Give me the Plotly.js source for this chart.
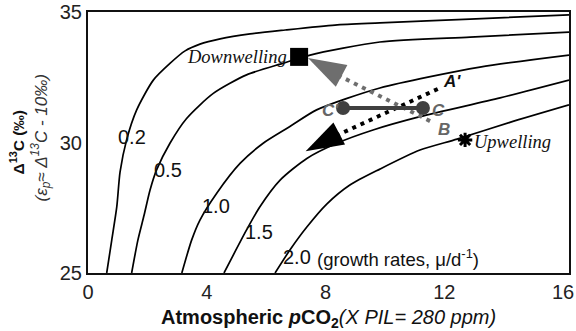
<!DOCTYPE html>
<html>
<head>
<meta charset="utf-8">
<script src="https://cdn.plot.ly/plotly-3.0.1.min.js"></script>
<style>html,body{margin:0;padding:0;background:#fff;}#chart{width:576px;height:331px;}</style>
</head>
<body>
<div id="chart"></div>
<script>
// Growth-rate curves: pCO2 (x PIL) vs Δ13C (‰)
const growthRates = ['0.2', '0.5', '1.0', '1.5', '2.0'];
const curve02X = [0.63, 0.80, 0.97, 1.08, 1.30, 1.64, 2.20, 2.76, 3.27, 3.77, 4.45, 5.46, 6.64, 8.32, 9.83, 12.87, 16.2];
const curve02Y = [25.0, 26.26, 27.54, 28.87, 30.10, 31.25, 32.39, 33.03, 33.51, 33.77, 33.97, 34.16, 34.31, 34.50, 34.58, 34.73, 34.89];
const curve05X = [1.47, 1.68, 1.89, 2.09, 2.31, 2.76, 3.32, 4.22, 5.34, 6.58, 7.48, 9.83, 12.87, 16.2];
const curve05Y = [25.0, 26.26, 27.22, 28.18, 28.95, 29.97, 30.92, 31.88, 32.59, 33.04, 33.35, 33.85, 34.04, 34.23];
const curve10X = [3.16, 3.49, 3.77, 4.33, 5.12, 5.90, 6.80, 7.70, 9.83, 13.20, 16.2];
const curve10Y = [25.0, 26.26, 27.03, 28.05, 29.20, 29.97, 30.61, 31.25, 32.09, 32.89, 33.35];
const curve15X = [4.58, 5.34, 5.79, 6.47, 7.37, 8.38, 9.60, 11.18, 13.88, 16.2];
const curve15Y = [25.0, 26.65, 27.54, 28.56, 29.39, 29.97, 30.48, 30.99, 31.71, 32.39];
const curve20X = [6.30, 6.80, 7.37, 8.04, 8.82, 9.83, 11.18, 12.43, 14.21, 16.2];
const curve20Y = [25.0, 25.88, 26.76, 27.64, 28.37, 28.98, 29.71, 30.13, 30.77, 31.44];
const curveLabelX = [1.48, 2.69, 4.31, 5.76, 7.04];
const curveLabelY = [30.2, 28.95, 27.57, 26.57, 25.6];

// Points and shifts
const downwelling = {x: 7.11, y: 33.28};
const upwelling = {x: 12.70, y: 30.10};
const pointC = {x: 11.28, y: 31.32};
const pointCprime = {x: 8.59, y: 31.32};
const labelB = {x: 11.99, y: 30.48};
const labelA = {x: 12.26, y: 32.32};
const greyPathX = [11.52, 8.10];
const greyPathY = [30.82, 32.76];
const greyTip = {x: 7.41, y: 33.24};
const blackPathX = [11.78, 8.05];
const blackPathY = [32.05, 30.10];
const blackTip = {x: 7.33, y: 29.66};

const xTicks = [0, 4, 8, 12, 16];
const yTicks = [25, 30, 35];

const curveXs = [curve02X, curve05X, curve10X, curve15X, curve20X];
const curveYs = [curve02Y, curve05Y, curve10Y, curve15Y, curve20Y];

const traces = curveXs.map((xs, i) => ({
  x: xs, y: curveYs[i], mode: 'lines', type: 'scatter',
  line: {color: '#000', width: 1.7, shape: 'spline', smoothing: 0.7},
  hoverinfo: 'skip', showlegend: false
}));

traces.push({
  x: greyPathX, y: greyPathY, mode: 'lines', type: 'scatter',
  line: {color: '#6e6e6e', width: 4, dash: '4px,5px'}, showlegend: false, hoverinfo: 'skip'
});
traces.push({
  x: blackPathX, y: blackPathY, mode: 'lines', type: 'scatter',
  line: {color: '#000', width: 4, dash: '4px,5px'}, showlegend: false, hoverinfo: 'skip'
});
// arrow heads (tip sits on the point)
traces.push({
  x: [greyTip.x], y: [greyTip.y], mode: 'markers', type: 'scatter',
  marker: {symbol: 'arrow', size: 40, angle: -62, color: '#6e6e6e', line: {width: 0}},
  showlegend: false, hoverinfo: 'skip'
});
traces.push({
  x: [blackTip.x], y: [blackTip.y], mode: 'markers', type: 'scatter',
  marker: {symbol: 'arrow', size: 40, angle: -118, color: '#000', line: {width: 0}},
  showlegend: false, hoverinfo: 'skip'
});
traces.push({
  x: [pointCprime.x, pointC.x], y: [pointCprime.y, pointC.y], mode: 'lines+markers', type: 'scatter',
  line: {color: '#404040', width: 4},
  marker: {color: '#404040', size: 14},
  showlegend: false, hoverinfo: 'skip'
});
traces.push({
  x: [downwelling.x], y: [downwelling.y], mode: 'markers', type: 'scatter',
  marker: {color: '#000', size: 18, symbol: 'square'}, showlegend: false, hoverinfo: 'skip'
});
traces.push({
  x: [upwelling.x], y: [upwelling.y], mode: 'markers', type: 'scatter',
  marker: {color: '#000', size: 12, symbol: 'asterisk-open', line: {color: '#000', width: 3}},
  showlegend: false, hoverinfo: 'skip'
});

const sans = 'Liberation Sans, Arial, sans-serif';
const serif = 'Liberation Serif, Times New Roman, serif';

const annotations = [];
growthRates.forEach((g, i) => {
  annotations.push({x: curveLabelX[i], y: curveLabelY[i], text: g, showarrow: false,
    font: {family: sans, size: 20, color: '#111'}, xanchor: 'center', yanchor: 'middle'});
});
annotations.push({x: 7.65, y: 25.57, text: '(growth rates, μ/d<sup>-1</sup>)', showarrow: false,
  font: {family: sans, size: 18.5, color: '#111'}, xanchor: 'left', yanchor: 'middle'});
annotations.push({x: downwelling.x, y: downwelling.y, text: '<i>Downwelling</i>', showarrow: false,
  font: {family: serif, size: 18.5, color: '#111'}, xanchor: 'right', yanchor: 'middle', xshift: -10});
annotations.push({x: upwelling.x, y: upwelling.y, text: '<i>Upwelling</i>', showarrow: false,
  font: {family: serif, size: 18.5, color: '#111'}, xanchor: 'left', yanchor: 'middle', xshift: 7, yshift: -2});
annotations.push({x: pointCprime.x, y: pointCprime.y, text: "<b><i>C'</i></b>", showarrow: false,
  font: {family: sans, size: 17, color: '#666'}, xanchor: 'right', yanchor: 'middle', xshift: -2, yshift: -2});
annotations.push({x: pointC.x, y: pointC.y, text: '<b><i>C</i></b>', showarrow: false,
  font: {family: sans, size: 17, color: '#666'}, xanchor: 'left', yanchor: 'middle', xshift: 7, yshift: -2});
annotations.push({x: labelB.x, y: labelB.y, text: '<b><i>B</i></b>', showarrow: false,
  font: {family: sans, size: 17, color: '#666'}, xanchor: 'center', yanchor: 'middle'});
annotations.push({x: labelA.x, y: labelA.y, text: "<b><i>A'</i></b>", showarrow: false,
  font: {family: sans, size: 17, color: '#111'}, xanchor: 'center', yanchor: 'middle'});
// axis titles
annotations.push({xref: 'paper', yref: 'paper', x: 0, y: 0.5, xshift: -71, textangle: -90,
  text: '<b>Δ<sup>13</sup>C (‰)</b>', showarrow: false,
  font: {family: sans, size: 15.5, color: '#111'}, xanchor: 'center', yanchor: 'middle'});
annotations.push({xref: 'paper', yref: 'paper', x: 0, y: 0.5, xshift: -47, yshift: 4, textangle: -90,
  text: '<i>(ε<sub>p</sub>≈ Δ<sup>13</sup>C - 10‰)</i>', showarrow: false,
  font: {family: sans, size: 17, color: '#333'}, xanchor: 'center', yanchor: 'middle'});
annotations.push({xref: 'paper', yref: 'paper', x: 0.5, y: 0, yshift: -45,
  text: '<b>Atmospheric <i>p</i>CO<sub>2</sub></b><i>(X PIL= 280 ppm)</i>', showarrow: false,
  font: {family: sans, size: 20, color: '#111'}, xanchor: 'center', yanchor: 'middle'});

const layout = {
  width: 576, height: 331,
  margin: {l: 88, r: 7, t: 12, b: 58},
  paper_bgcolor: '#fff', plot_bgcolor: '#fff',
  showlegend: false,
  xaxis: {range: [0, 16.2], tickvals: xTicks, ticktext: xTicks.map(String), showgrid: false, zeroline: false,
    showline: true, mirror: true, linecolor: '#111', linewidth: 2, ticks: '',
    tickfont: {family: sans, size: 20, color: '#222'}},
  yaxis: {range: [25, 35], tickvals: yTicks, ticktext: yTicks.map(String), showgrid: false, zeroline: false,
    showline: true, mirror: true, linecolor: '#111', linewidth: 2, ticks: '',
    tickfont: {family: sans, size: 20, color: '#222'}},
  annotations: annotations
};

Plotly.newPlot('chart', traces, layout, {staticPlot: true, displayModeBar: false});
</script>
</body>
</html>
